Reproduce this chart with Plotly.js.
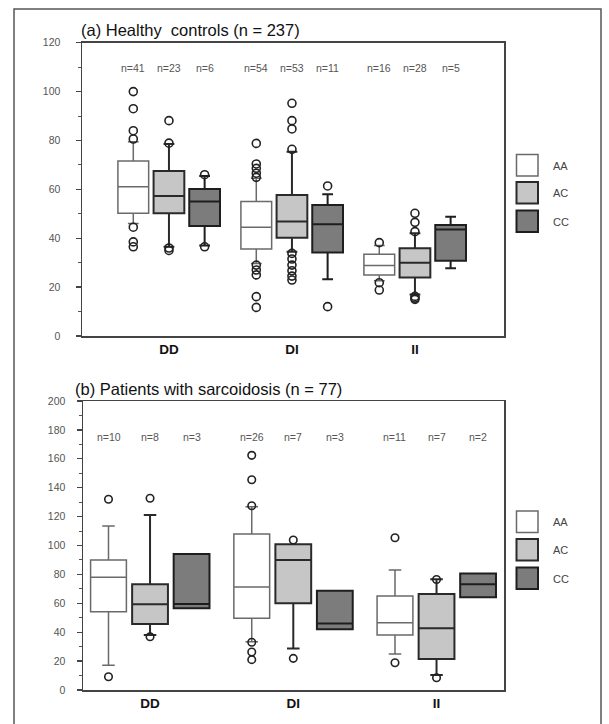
<!DOCTYPE html>
<html><head><meta charset="utf-8">
<script src="https://cdn.plot.ly/plotly-3.0.1.min.js"></script>
<style>html,body{margin:0;padding:0;background:#fff}#chart{width:609px;height:724px}</style>
</head><body><div id="chart"></div>
<script>
// ---------- DATA ----------
const groups = ['DD', 'DI', 'II'];
const genotypes = ['AA', 'AC', 'CC'];
// Each row: [lowerfence, q1, median, q3, upperfence] for DD, DI, II
const topAA = [[46, 50.2, 61.1, 71.6, 79.5], [29.7, 35.6, 44.5, 55, 64.5], [22.6, 25, 28.8, 33.4, 37]];
const topAC = [[36.5, 50.2, 57.3, 67.5, 78.6], [34.5, 40.2, 46.8, 57.7, 75.4], [17, 23.9, 30, 35.9, 42]];
const topCC = [[37, 45, 55, 60.1, 65.5], [23.2, 34.2, 45.7, 53.6, 58], [27.7, 30.8, 43.6, 45.4, 48.8]];
const topOutAA = [[100, 93, 84, 80.6, 44.5, 38.5, 36.5], [78.8, 70.4, 68.6, 66.6, 64.9, 29, 27, 25, 16.1, 11.7], [38.2, 21.8, 18.8]];
const topOutAC = [[88.1, 78.9, 36, 35], [95.2, 88.1, 84.7, 76.4, 33.8, 31.5, 29, 26.7, 24.5, 22.9], [50.2, 46.5, 42.7, 16.2, 15.5, 15]];
const topOutCC = [[66, 36.5], [61.4, 12], []];
const topN = [[41, 54, 16], [23, 53, 28], [6, 11, 5]];

const botAA = [[17.1, 54.2, 78, 90, 113.5], [33.4, 49.6, 71.3, 108, 126.9], [24.9, 38.1, 46.6, 65, 83]];
const botAC = [[38, 45.7, 59.3, 73.1, 121.1], [28.8, 60, 90, 100.8, 100.8], [10.4, 21.5, 42.7, 66.4, 76.6]];
const botCC = [[56.5, 56.5, 59.5, 94.1, 94.1], [42.1, 42.1, 46.1, 68.7, 68.7], [64.2, 64.2, 73.1, 80.7, 80.7]];
const botOutAA = [[132, 9.2], [162.4, 145.5, 127.5, 33, 26.3, 21], [105.4, 18.9]];
const botOutAC = [[132.7, 36.9], [103.8, 21.9], [76.5, 8.5]];
const botOutCC = [[], [], []];
const botN = [[10, 26, 11], [8, 7, 7], [3, 3, 2]];

const titleA = '(a) Healthy  controls (n = 237)';
const titleB = '(b) Patients with sarcoidosis (n = 77)';

// ---------- STYLE / LAYOUT ----------
const W = 609, H = 724;
const PX = p => p / W, PY = p => 1 - p / H;
const FONT = 'Liberation Sans, Arial, sans-serif';
const styles = [
  {fill: '#ffffff', line: '#6a6a6a', lw: 1.5},
  {fill: '#c6c6c6', line: '#2a2a2a', lw: 2},
  {fill: '#7c7c7c', line: '#1e1e1e', lw: 2}
];
const OFFSET = 0.29, BOXW = 0.25;
const posOf = (gi, k) => gi + 1 + (k - 1) * OFFSET;

const traces = [];
const annotations = [];
function addPanel(stats, outs, counts, xa, ya, nY, msize) {
  stats.forEach((rows, k) => {
    const st = styles[k];
    traces.push({
      type: 'box', xaxis: xa, yaxis: ya, name: genotypes[k],
      x: groups.map((g, gi) => posOf(gi, k)),
      lowerfence: rows.map(r => r[0]), q1: rows.map(r => r[1]), median: rows.map(r => r[2]),
      q3: rows.map(r => r[3]), upperfence: rows.map(r => r[4]),
      width: BOXW, whiskerwidth: 0.35, boxpoints: false,
      fillcolor: st.fill, line: {color: st.line, width: st.lw},
      showlegend: false, hoverinfo: 'skip'
    });
    const ox = [], oy = [];
    outs[k].forEach((vals, gi) => vals.forEach(v => { ox.push(posOf(gi, k)); oy.push(v); }));
    traces.push({
      type: 'scatter', mode: 'markers', xaxis: xa, yaxis: ya, x: ox, y: oy,
      marker: {symbol: 'circle-open', size: msize, color: '#222', line: {width: 1.6, color: '#222'}},
      showlegend: false, hoverinfo: 'skip'
    });
    counts[k].forEach((n, gi) => {
      annotations.push({
        xref: xa, yref: ya, x: posOf(gi, k), y: nY, text: 'n=' + n, showarrow: false,
        font: {family: FONT, size: 10.5, color: '#555'}, xanchor: 'center', yanchor: 'middle'
      });
    });
  });
}
addPanel([topAA, topAC, topCC], [topOutAA, topOutAC, topOutCC], topN, 'x', 'y', 109.6, 8);
addPanel([botAA, botAC, botCC], [botOutAA, botOutAC, botOutCC], botN, 'x2', 'y2', 175, 7.5);

// titles
annotations.push({xref: 'paper', yref: 'paper', x: PX(79), y: PY(30), xanchor: 'left', yanchor: 'middle',
  text: titleA, showarrow: false, font: {family: FONT, size: 16.5, color: '#111'}});
annotations.push({xref: 'paper', yref: 'paper', x: PX(73), y: PY(389), xanchor: 'left', yanchor: 'middle',
  text: titleB, showarrow: false, font: {family: FONT, size: 16.5, color: '#111'}});

// custom legends
const shapes = [];
function addLegend(tops) {
  genotypes.forEach((g, k) => {
    const st = styles[k];
    shapes.push({type: 'rect', xref: 'paper', yref: 'paper', x0: PX(516.5), x1: PX(538), y0: PY(tops[k]), y1: PY(tops[k] + 21.5),
      fillcolor: st.fill, line: {color: st.line, width: st.lw}});
    annotations.push({xref: 'paper', yref: 'paper', x: PX(551), y: PY(tops[k] + 11), xanchor: 'left', yanchor: 'middle',
      text: g, showarrow: false, font: {family: FONT, size: 11, color: '#444'}});
  });
}
addLegend([154.5, 182, 210.5]);
addLegend([511, 539, 567.5]);

// outer frame
shapes.push({type: 'rect', xref: 'paper', yref: 'paper', x0: PX(14), x1: PX(601), y0: PY(740), y1: PY(9),
  line: {color: '#555', width: 1.5}, fillcolor: 'rgba(0,0,0,0)', layer: 'below'});

function xAxis(domain, range, anchor) {
  return {domain, range, anchor, tickvals: [1, 2, 3], ticktext: groups, ticks: '',
    showline: true, mirror: true, linecolor: '#444', linewidth: 1.5, showgrid: false, zeroline: false,
    tickfont: {family: FONT, size: 13.5, color: '#111', weight: 'bold'}, fixedrange: true};
}
function yAxis(domain, range, dtick, anchor, standoff) {
  return {domain, range, anchor, tick0: 0, dtick, ticks: 'outside', ticklen: 5, tickcolor: '#444', tickwidth: 1.3,
    minor: {dtick: 10, ticks: 'outside', ticklen: 3, tickcolor: '#555', tickwidth: 1},
    showline: true, mirror: true, linecolor: '#444', linewidth: 1.5, showgrid: false, zeroline: false,
    ticklabelstandoff: standoff,
    tickfont: {family: FONT, size: 10.5, color: '#555'}, fixedrange: true};
}

const layout = {
  width: W, height: H, margin: {l: 0, r: 0, t: 0, b: 0},
  paper_bgcolor: '#fff', plot_bgcolor: '#fff', showlegend: false,
  font: {family: FONT},
  xaxis: xAxis([PX(82), PX(504)], [0.293, 3.724], 'y'),
  yaxis: yAxis([PY(336), PY(42.7)], [0, 120], 20, 'x', 13),
  xaxis2: xAxis([PX(83), PX(504)], [0.532, 3.471], 'y2'),
  yaxis2: yAxis([PY(690), PY(401)], [0, 200], 20, 'x2', 9),
  annotations, shapes
};
Plotly.newPlot('chart', traces, layout, {staticPlot: true, displayModeBar: false});
</script></body></html>
